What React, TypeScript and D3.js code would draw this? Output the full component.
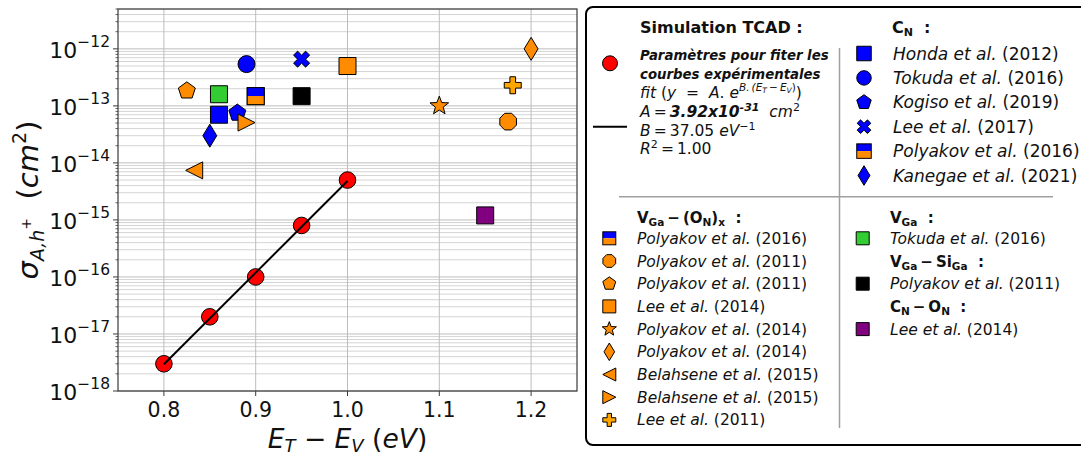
import React from "react";
import * as d3 from "d3";

// ---------- DATA ----------
const simX = [0.8, 0.85, 0.9, 0.95, 1.0];
const simY = [3.0e-18, 2.0e-17, 1.0e-16, 8.0e-16, 5.0e-15];
const fitX = [0.8, 1.0];
const fitY = [2.94e-18, 4.8e-15];

const xTicks = [0.8, 0.9, 1.0, 1.1, 1.2];
const xTickLabels = ["0.8", "0.9", "1.0", "1.1", "1.2"];
const yExponents = [-18, -17, -16, -15, -14, -13, -12];
const yTickLabels = ["−18", "−17", "−16", "−15", "−14", "−13", "−12"];

const cnRefs = ["Honda", "Tokuda", "Kogiso", "Lee", "Polyakov", "Kanegae"];
const cnYears = ["2012", "2016", "2019", "2017", "2016", "2021"];
const cnX = [0.86, 0.89, 0.88, 0.95, 0.9, 0.85];
const cnY = [7.0e-14, 5.4e-13, 7.5e-14, 6.6e-13, 1.48e-13, 3.0e-14];

const vgaonRefs = ["Polyakov", "Polyakov", "Polyakov", "Lee", "Polyakov", "Polyakov", "Belahsene", "Belahsene", "Lee"];
const vgaonYears = ["2016", "2011", "2011", "2014", "2014", "2014", "2015", "2015", "2011"];
const vgaonX = [0.9, 1.175, 0.825, 1.0, 1.1, 1.2, 0.833, 0.89, 1.18];
const vgaonY = [1.48e-13, 5.3e-14, 1.84e-13, 5.0e-13, 1.0e-13, 1.0e-12, 7.4e-15, 5.1e-14, 2.3e-13];

const vgaRefs = ["Tokuda"];
const vgaYears = ["2016"];
const vgaX = [0.86];
const vgaY = [1.6e-13];

const vgasiRefs = ["Polyakov"];
const vgasiYears = ["2011"];
const vgasiX = [0.95];
const vgasiY = [1.48e-13];

const cnonRefs = ["Lee"];
const cnonYears = ["2014"];
const cnonX = [1.15];
const cnonY = [1.2e-15];

// ---------- STYLES ----------
const BLUE = "#0000ff";
const ORANGE = "#ff8c00";
const LORANGE = "#ffa500";
const cnStyles = [
  { shape: "s", fill: BLUE },
  { shape: "o", fill: BLUE },
  { shape: "p", fill: BLUE },
  { shape: "X", fill: BLUE },
  { shape: "half", fill: BLUE },
  { shape: "d", fill: BLUE },
];
const vgaonStyles = [
  { shape: "half", fill: ORANGE },
  { shape: "8", fill: ORANGE },
  { shape: "p", fill: ORANGE },
  { shape: "s", fill: ORANGE },
  { shape: "*", fill: ORANGE },
  { shape: "d", fill: ORANGE },
  { shape: "<", fill: ORANGE },
  { shape: ">", fill: ORANGE },
  { shape: "P", fill: LORANGE },
];
const vgaStyles = [{ shape: "s", fill: "#32cd32" }];
const vgasiStyles = [{ shape: "s", fill: "#000000" }];
const cnonStyles = [{ shape: "s", fill: "#800080" }];

const FONT = "DejaVu Sans, Verdana, sans-serif";

function poly(pts: number[][]) {
  return "M" + pts.map((p) => p[0].toFixed(2) + "," + p[1].toFixed(2)).join("L") + "Z";
}
function regular(n: number, r: number, rot: number) {
  const pts: number[][] = [];
  for (let k = 0; k < n; k++) {
    const a = rot + (k * 2 * Math.PI) / n;
    pts.push([r * Math.cos(a), r * Math.sin(a)]);
  }
  return pts;
}
function markerPath(shape: string, s: number): string {
  const h = s / 2;
  switch (shape) {
    case "o":
      return `M${h},0A${h},${h} 0 1 1 ${-h},0A${h},${h} 0 1 1 ${h},0Z`;
    case "s":
      return poly([[-h, -h], [h, -h], [h, h], [-h, h]]);
    case "8":
      return poly(regular(8, h * 1.06, Math.PI / 8));
    case "p":
      return poly(regular(5, h * 1.05, -Math.PI / 2));
    case "d":
      return poly([[0, -h * 1.35], [h * 0.82, 0], [0, h * 1.35], [-h * 0.82, 0]]);
    case "<":
      return poly([[-h, 0], [h, -h], [h, h]]);
    case ">":
      return poly([[h, 0], [-h, -h], [-h, h]]);
    case "*": {
      const pts: number[][] = [];
      for (let k = 0; k < 10; k++) {
        const r = k % 2 === 0 ? h * 1.15 : h * 1.15 * 0.42;
        const a = -Math.PI / 2 + (k * Math.PI) / 5;
        pts.push([r * Math.cos(a), r * Math.sin(a)]);
      }
      return poly(pts);
    }
    case "P":
    case "X": {
      const base = [[-1, -3], [1, -3], [1, -1], [3, -1], [3, 1], [1, 1], [1, 3], [-1, 3], [-1, 1], [-3, 1], [-3, -1], [-1, -1]];
      const sc = s / 6;
      const ang = shape === "X" ? Math.PI / 4 : 0;
      return poly(
        base.map(([x, y]) => [
          (x * Math.cos(ang) - y * Math.sin(ang)) * sc,
          (x * Math.sin(ang) + y * Math.cos(ang)) * sc,
        ])
      );
    }
  }
  return "";
}

function Marker({ shape, fill, x, y, s }: { shape: string; fill: string; x: number; y: number; s: number }) {
  if (shape === "half") {
    const h = s / 2;
    return (
      <g transform={`translate(${x},${y})`}>
        <rect x={-h} y={-h} width={s} height={h} fill={BLUE} />
        <rect x={-h} y={0} width={s} height={h} fill={ORANGE} />
        <rect x={-h} y={-h} width={s} height={s} fill="none" stroke="#000" strokeWidth={1} />
      </g>
    );
  }
  return (
    <path
      d={markerPath(shape, s)}
      transform={`translate(${x},${y})`}
      fill={fill}
      stroke="#000"
      strokeWidth={1}
      strokeLinejoin="miter"
    />
  );
}

// ---------- LAYOUT ----------
const W = 1081;
const H = 456;
const PL = 118, PR = 577, PT = 9, PB = 391;

export default function App() {
  const x = d3.scaleLinear().domain([0.75, 1.25]).range([PL, PR]);
  const y = d3.scaleLog().domain([1e-18, 5e-12]).range([PB, PT]);
  const line = d3
    .line<number>()
    .x((_, i) => x(fitX[i]))
    .y((d) => y(d));

  const minor: number[] = [];
  yExponents.forEach((e) => {
    for (let m = 2; m <= 9; m++) {
      const v = m * Math.pow(10, e);
      if (v <= 5e-12) minor.push(v);
    }
  });

  const groups = [
    { xs: cnX, ys: cnY, st: cnStyles },
    { xs: vgaonX, ys: vgaonY, st: vgaonStyles },
    { xs: vgaX, ys: vgaY, st: vgaStyles },
    { xs: vgasiX, ys: vgasiY, st: vgasiStyles },
    { xs: cnonX, ys: cnonY, st: cnonStyles },
  ];

  const MS = 17;

  const entry = (ref: string, year: string, tx: number, ty: number, fs: number, key: string) => (
    <text key={key} x={tx} y={ty} fontSize={fs} fontFamily={FONT} fill="#111">
      <tspan fontStyle="italic">{ref + " et al."}</tspan>
      <tspan>{"\u00a0(" + year + ")"}</tspan>
    </text>
  );

  const trY0 = 53.5, trStep = 24.4;
  const lY0 = 238.3, lStep = 22.7;

  return (
    <svg
      width={W}
      height={H}
      style={{ position: "fixed", left: 0, top: 0, background: "#fff" }}
      fontFamily={FONT}
    >
      <rect x={0} y={0} width={W} height={H} fill="#fff" />
      {/* grid */}
      <g>
        {minor.map((v, i) => (
          <line key={"mg" + i} x1={PL} x2={PR} y1={y(v)} y2={y(v)} stroke="#cfcfcf" strokeWidth={0.9} />
        ))}
        {yExponents.map((e) => (
          <line key={"Mg" + e} x1={PL} x2={PR} y1={y(Math.pow(10, e))} y2={y(Math.pow(10, e))} stroke="#bdbdbd" strokeWidth={1} />
        ))}
        {xTicks.map((t) => (
          <line key={"xg" + t} x1={x(t)} x2={x(t)} y1={PT} y2={PB} stroke="#bdbdbd" strokeWidth={1} />
        ))}
      </g>
      {/* frame */}
      <rect x={PL} y={PT} width={PR - PL} height={PB - PT} fill="none" stroke="#3a3a3a" strokeWidth={1.2} />
      {/* y ticks */}
      {yExponents.map((e, i) => {
        const yy = y(Math.pow(10, e));
        return (
          <g key={"yt" + e}>
            <line x1={PL - 5} x2={PL} y1={yy} y2={yy} stroke="#3a3a3a" strokeWidth={1} />
            <text x={110} y={yy + 9} textAnchor="end" fontSize={22} fill="#111">
              <tspan>10</tspan>
              <tspan dy={-11} fontSize={15.5}>{yTickLabels[i]}</tspan>
            </text>
          </g>
        );
      })}
      {minor.map((v, i) => (
        <line key={"ymt" + i} x1={PL - 2.5} x2={PL} y1={y(v)} y2={y(v)} stroke="#3a3a3a" strokeWidth={0.8} />
      ))}
      {/* x ticks */}
      {xTicks.map((t, i) => (
        <g key={"xt" + t}>
          <line x1={x(t)} x2={x(t)} y1={PB} y2={PB + 5} stroke="#3a3a3a" strokeWidth={1} />
          <text x={x(t)} y={417} textAnchor="middle" fontSize={20.5} fill="#111">
            {xTickLabels[i]}
          </text>
        </g>
      ))}
      {/* axis labels */}
      <text x={(PL + PR) / 2} y={448} textAnchor="middle" fontSize={26.5} fill="#111">
        <tspan fontStyle="italic">E</tspan>
        <tspan dy={3.5} fontSize={18} fontStyle="italic">T</tspan>
        <tspan dy={-3.5}>{"\u00a0−\u00a0"}</tspan>
        <tspan fontStyle="italic">E</tspan>
        <tspan dy={3.5} fontSize={18} fontStyle="italic">V</tspan>
        <tspan dy={-3.5}>{"\u00a0("}</tspan>
        <tspan fontStyle="italic">eV</tspan>
        <tspan>)</tspan>
      </text>
      <text transform={`translate(38,${(PT + PB) / 2}) rotate(-90)`} textAnchor="middle" fontSize={29} fill="#111">
        <tspan fontStyle="italic">σ</tspan>
        <tspan dy={6} fontSize={19} fontStyle="italic">A,h</tspan>
        <tspan dy={-13} fontSize={14}>+</tspan>
        <tspan dy={7}>{"\u00a0\u00a0("}</tspan>
        <tspan fontStyle="italic">cm</tspan>
        <tspan dy={-12} fontSize={19}>2</tspan>
        <tspan dy={12}>)</tspan>
      </text>

      {/* data */}
      {groups.map((g, gi) =>
        g.xs.map((xv, i) => (
          <Marker key={"m" + gi + "_" + i} shape={g.st[i].shape} fill={g.st[i].fill} x={x(xv)} y={y(g.ys[i])} s={MS} />
        ))
      )}
      {simX.map((xv, i) => (
        <circle key={"sim" + i} cx={x(xv)} cy={y(simY[i])} r={8.3} fill="#ff0000" stroke="#000" strokeWidth={1} />
      ))}
      <path d={line(fitY) || ""} fill="none" stroke="#000" strokeWidth={2} />

      {/* legend */}
      <rect x={586} y={7} width={520} height={438} rx={7} fill="#fff" stroke="#000" strokeWidth={2} />
      <line x1={839.5} x2={839.5} y1={48} y2={428} stroke="#a0a0a0" strokeWidth={1.5} />
      <line x1={619} x2={1053} y1={196.8} y2={196.8} stroke="#a0a0a0" strokeWidth={1.5} />

      {/* simulation block */}
      <text x={640} y={33} fontSize={16} fontWeight="bold" fill="#111">Simulation TCAD :</text>
      <circle cx={610} cy={63.3} r={7.5} fill="#ff0000" stroke="#000" strokeWidth={1} />
      <text x={640} y={60} fontSize={13.3} fontWeight="bold" fontStyle="italic" fill="#111">Paramètres pour fiter les</text>
      <text x={640} y={79} fontSize={13.3} fontWeight="bold" fontStyle="italic" fill="#111">courbes expérimentales</text>
      <line x1={593} x2={627} y1={126.7} y2={126.7} stroke="#000" strokeWidth={2} />
      <text x={640} y={98} fontSize={15.5} fill="#111">
        <tspan fontStyle="italic">fit</tspan>
        <tspan>{"\u00a0("}</tspan>
        <tspan fontStyle="italic">y</tspan>
        <tspan>{"\u00a0 = \u00a0"}</tspan>
        <tspan fontStyle="italic">A</tspan>
        <tspan>{". "}</tspan>
        <tspan fontStyle="italic">e</tspan>
        <tspan dy={-7} fontSize={10.5} fontStyle="italic">{"B.\u2009(E"}</tspan>
        <tspan dy={2} fontSize={7.5} fontStyle="italic">T</tspan>
        <tspan dy={-2} fontSize={10.5}>{"\u2009−\u2009"}</tspan>
        <tspan fontSize={10.5} fontStyle="italic">E</tspan>
        <tspan dy={2} fontSize={7.5} fontStyle="italic">V</tspan>
        <tspan dy={-2} fontSize={10.5}>)</tspan>
        <tspan dy={7}>)</tspan>
      </text>
      <text x={640} y={117} fontSize={15.5} fill="#111">
        <tspan fontStyle="italic">A</tspan>
        <tspan>{"\u2009=\u2009"}</tspan>
        <tspan fontWeight="bold" fontStyle="italic">3.92x10</tspan>
        <tspan dy={-6} fontSize={11} fontWeight="bold" fontStyle="italic">-31</tspan>
        <tspan dy={6}>{"\u00a0\u00a0"}</tspan>
        <tspan fontStyle="italic">cm</tspan>
        <tspan dy={-6} fontSize={11}>2</tspan>
      </text>
      <text x={640} y={135.5} fontSize={15.5} fill="#111">
        <tspan fontStyle="italic">B</tspan>
        <tspan>{"\u2009=\u200937.05\u00a0"}</tspan>
        <tspan fontStyle="italic">eV</tspan>
        <tspan dy={-6} fontSize={11}>−1</tspan>
      </text>
      <text x={640} y={153.5} fontSize={15.5} fill="#111">
        <tspan fontStyle="italic">R</tspan>
        <tspan dy={-6} fontSize={11}>2</tspan>
        <tspan dy={6}>{"\u2009=\u20091.00"}</tspan>
      </text>

      {/* C_N block */}
      <text x={892} y={33} fontSize={16} fontWeight="bold" fill="#111">
        <tspan>C</tspan>
        <tspan dy={3} fontSize={11}>N</tspan>
        <tspan dy={-3}>{"\u00a0\u00a0:"}</tspan>
      </text>
      {cnRefs.map((r, i) => {
        const cy = trY0 + i * trStep;
        return (
          <g key={"lc" + i}>
            <Marker shape={cnStyles[i].shape} fill={cnStyles[i].fill} x={864} y={cy} s={14.5} />
            {entry(r, cnYears[i], 893, cy + 6, 17, "tc" + i)}
          </g>
        );
      })}

      {/* V_Ga-(O_N)_x block */}
      <text x={637} y={223} fontSize={15} fontWeight="bold" fill="#111">
        <tspan>V</tspan>
        <tspan dy={3} fontSize={10.5}>Ga</tspan>
        <tspan dy={-3}>{"\u2009−\u2009(O"}</tspan>
        <tspan dy={3} fontSize={10.5}>N</tspan>
        <tspan dy={-3}>)</tspan>
        <tspan dy={3} fontSize={10.5}>x</tspan>
        <tspan dy={-3}>{"\u00a0\u00a0:"}</tspan>
      </text>
      {vgaonRefs.map((r, i) => {
        const cy = lY0 + i * lStep;
        return (
          <g key={"lv" + i}>
            <Marker shape={vgaonStyles[i].shape} fill={vgaonStyles[i].fill} x={609.3} y={cy} s={13} />
            {entry(r, vgaonYears[i], 637, cy + 5.5, 15.5, "tv" + i)}
          </g>
        );
      })}

      {/* right lower block */}
      <text x={890} y={223} fontSize={15} fontWeight="bold" fill="#111">
        <tspan>V</tspan>
        <tspan dy={3} fontSize={10.5}>Ga</tspan>
        <tspan dy={-3}>{"\u00a0\u00a0:"}</tspan>
      </text>
      <Marker shape={vgaStyles[0].shape} fill={vgaStyles[0].fill} x={862.7} y={lY0} s={13} />
      {entry(vgaRefs[0], vgaYears[0], 890, lY0 + 5.5, 15.5, "tg")}
      <text x={890} y={lY0 + lStep + 5.5} fontSize={15} fontWeight="bold" fill="#111">
        <tspan>V</tspan>
        <tspan dy={3} fontSize={10.5}>Ga</tspan>
        <tspan dy={-3}>{"\u2009−\u2009Si"}</tspan>
        <tspan dy={3} fontSize={10.5}>Ga</tspan>
        <tspan dy={-3}>{"\u00a0\u00a0:"}</tspan>
      </text>
      <Marker shape={vgasiStyles[0].shape} fill={vgasiStyles[0].fill} x={862.7} y={lY0 + 2 * lStep} s={13} />
      {entry(vgasiRefs[0], vgasiYears[0], 890, lY0 + 2 * lStep + 5.5, 15.5, "ts")}
      <text x={890} y={lY0 + 3 * lStep + 5.5} fontSize={15} fontWeight="bold" fill="#111">
        <tspan>C</tspan>
        <tspan dy={3} fontSize={10.5}>N</tspan>
        <tspan dy={-3}>{"\u2009−\u2009O"}</tspan>
        <tspan dy={3} fontSize={10.5}>N</tspan>
        <tspan dy={-3}>{"\u00a0\u00a0:"}</tspan>
      </text>
      <Marker shape={cnonStyles[0].shape} fill={cnonStyles[0].fill} x={862.7} y={lY0 + 4 * lStep} s={13} />
      {entry(cnonRefs[0], cnonYears[0], 890, lY0 + 4 * lStep + 5.5, 15.5, "to")}
    </svg>
  );
}
